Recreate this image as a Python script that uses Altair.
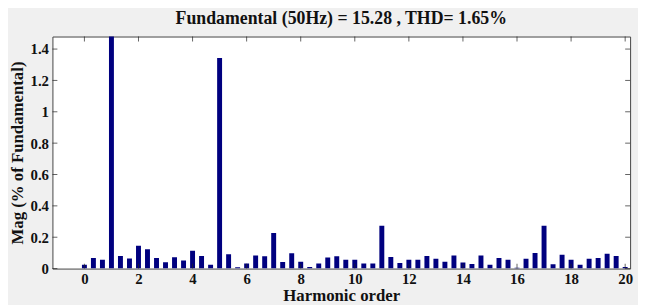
import altair as alt
import pandas as pd

# Harmonic orders (bars every 1/3 of an order) and magnitudes (% of fundamental)
orders = [0.0, 0.333, 0.667, 1.0, 1.333, 1.667, 2.0, 2.333, 2.667, 3.0,
          3.333, 3.667, 4.0, 4.333, 4.667, 5.0, 5.333, 5.667, 6.0, 6.333,
          6.667, 7.0, 7.333, 7.667, 8.0, 8.333, 8.667, 9.0, 9.333, 9.667,
          10.0, 10.333, 10.667, 11.0, 11.333, 11.667, 12.0, 12.333, 12.667, 13.0,
          13.333, 13.667, 14.0, 14.333, 14.667, 15.0, 15.333, 15.667, 16.0, 16.333,
          16.667, 17.0, 17.333, 17.667, 18.0, 18.333, 18.667, 19.0, 19.333, 19.667,
          20.0]
mags = [0.025, 0.067, 0.057, 100.0, 0.080, 0.065, 0.145, 0.124, 0.067, 0.040,
        0.073, 0.052, 0.113, 0.080, 0.025, 1.343, 0.092, 0.008, 0.032, 0.084,
        0.078, 0.227, 0.042, 0.097, 0.044, 0.010, 0.032, 0.071, 0.078, 0.057,
        0.057, 0.032, 0.032, 0.273, 0.074, 0.036, 0.057, 0.057, 0.080, 0.063,
        0.044, 0.084, 0.038, 0.029, 0.084, 0.025, 0.067, 0.057, 0.006, 0.063,
        0.099, 0.273, 0.027, 0.088, 0.057, 0.025, 0.063, 0.067, 0.095, 0.080,
        0.010]
x_ticks = [0, 2, 4, 6, 8, 10, 12, 14, 16, 18, 20]
y_ticks = [0, 0.2, 0.4, 0.6, 0.8, 1, 1.2, 1.4]

W, H = 585, 235
XDOM = [-1, 20]
YDOM = [0, 1.48]
FONT = "Liberation Serif"
BAR = "#00007f"

df = pd.DataFrame({"order": orders, "mag": mags})
dfx = pd.DataFrame({"t": x_ticks})
dfy = pd.DataFrame({"t": y_ticks})

xscale = alt.Scale(domain=XDOM, nice=False, zero=False)
yscale = alt.Scale(domain=YDOM, nice=False)

xaxis = alt.Axis(values=x_ticks, title="Harmonic order", ticks=False, domain=False,
                 grid=False, labelPadding=3, titlePadding=1, labelOverlap=False,
                 labelFlush=False, labelExpr="format(datum.value, '~g')")
yaxis = alt.Axis(values=y_ticks, title="Mag (% of Fundamental)", ticks=False,
                 domain=False, grid=False, labelPadding=4, titlePadding=4,
                 labelOverlap=False, labelFlush=False,
                 labelExpr="format(datum.value, '~g')")

bars = alt.Chart(df).mark_bar(size=5, color=BAR, clip=True).encode(
    x=alt.X("order:Q", scale=xscale, axis=xaxis),
    y=alt.Y("mag:Q", scale=yscale, axis=yaxis),
)

xt_bottom = alt.Chart(dfx).mark_tick(color="#222", size=5, thickness=1).encode(
    x=alt.X("t:Q", scale=xscale, axis=xaxis), y=alt.value(H - 2.5))
xt_top = alt.Chart(dfx).mark_tick(color="#222", size=5, thickness=1).encode(
    x=alt.X("t:Q", scale=xscale, axis=xaxis), y=alt.value(2.5))
yt_left = alt.Chart(dfy).mark_tick(color="#222", size=5, thickness=1, orient="horizontal").encode(
    y=alt.Y("t:Q", scale=yscale, axis=yaxis), x=alt.value(2.5))
yt_right = alt.Chart(dfy).mark_tick(color="#222", size=5, thickness=1, orient="horizontal").encode(
    y=alt.Y("t:Q", scale=yscale, axis=yaxis), x=alt.value(W - 2.5))

chart = alt.layer(bars, xt_bottom, xt_top, yt_left, yt_right).properties(
    width=W, height=H,
    title=alt.TitleParams("Fundamental (50Hz) = 15.28 , THD= 1.65%", font=FONT, fontSize=18,
                          fontWeight="bold", color="#111", offset=9, anchor="middle"),
    autosize="none",
    padding={"left": 45, "top": 27, "right": 8, "bottom": 35},
    background="#f0f0f0",
).configure_view(stroke="#444", fill="white", strokeWidth=1).configure_axis(
    labelFont=FONT, labelFontSize=15, labelFontWeight="bold", labelColor="#111",
    titleFont=FONT, titleFontSize=17, titleFontWeight="bold", titleColor="#111",
)

chart.save("out.html", embed_options={"renderer": "svg", "actions": False})
